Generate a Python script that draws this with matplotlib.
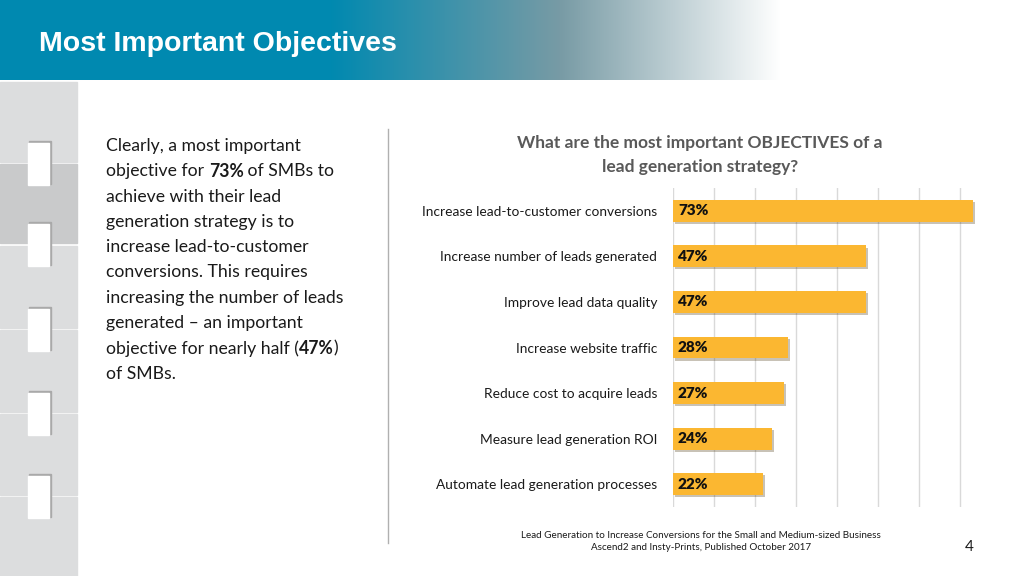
import numpy as np
import matplotlib.pyplot as plt
import matplotlib.patches as mpatches
import matplotlib.patheffects as pe
from matplotlib import font_manager

categories = ["Increase lead-to-customer conversions",
              "Increase number of leads generated",
              "Improve lead data quality",
              "Increase website traffic",
              "Reduce cost to acquire leads",
              "Measure lead generation ROI",
              "Automate lead generation processes"]
values = [0.73, 0.47, 0.47, 0.28, 0.27, 0.24, 0.22]

title = "Most Important Objectives"
chart_title = "What are the most important OBJECTIVES of a\nlead generation strategy?"
source = ["Lead Generation to Increase Conversions for the Small and Medium-sized Business",
          "Ascend2 and Insty-Prints, Published October 2017"]
page = "4"

# body text, pieces marked bold
body = [[("Clearly, a most important", False)],
        [("objective for ", False), ("73%", True), (" of SMBs to", False)],
        [("achieve with their lead", False)],
        [("generation strategy is to", False)],
        [("increase lead-to-customer", False)],
        [("conversions. This requires", False)],
        [("increasing the number of leads", False)],
        [("generated \u2013 an important", False)],
        [("objective for nearly half (", False), ("47%", True), (")", False)],
        [("of SMBs.", False)]]

FONT = ["Lato", "DejaVu Sans"]
installed = {f.name for f in font_manager.fontManager.ttflist}
narrow = "Liberation Sans Narrow" if "Liberation Sans Narrow" in installed else "Liberation Sans"
title_size = 25 if narrow == "Liberation Sans Narrow" else 20.5

W, H = 1024, 576
fig = plt.figure(figsize=(W / 100, H / 100), dpi=100)
fig.patch.set_facecolor("white")

def fx(x):
    return x / W

def fy(y):
    return 1 - y / H

# header band with gradient to white
bg = fig.add_axes([0, fy(80), 1, 80 / H])
bg.axis("off")
grad = np.ones((1, W, 3))
teal = np.array([0, 137, 176]) / 255
mid = np.array([120, 155, 165]) / 255
for i in range(W):
    if i < 330:
        c = teal
    elif i < 560:
        t = (i - 330) / 230
        c = teal * (1 - t) + mid * t
    elif i < 780:
        t = (i - 560) / 220
        c = mid * (1 - t) + np.ones(3) * t
    else:
        c = np.ones(3)
    grad[0, i] = c
bg.imshow(grad, aspect="auto", extent=[0, 1, 0, 1])
bg.set_xlim(0, 1)
bg.set_ylim(0, 1)
fig.text(fx(39), fy(44), title, color="white", fontsize=title_size, fontweight="bold",
         family=[narrow, "DejaVu Sans"], va="center", ha="left")

# left tile column
tiles = [(82, 162), (164, 243), (246, 328), (330, 412), (414, 495), (497, 576)]
for k, (t0, t1) in enumerate(tiles):
    col = "#c9cacb" if k == 1 else "#dcddde"
    fig.patches.append(mpatches.Rectangle((0, fy(t1)), fx(77), (t1 - t0) / H,
                                          transform=fig.transFigure, color=col, zorder=1))
for t0, t1 in tiles[:-1]:
    b = t1 + 1
    fig.patches.append(mpatches.Rectangle((fx(29), fy(b + 21)), fx(22), 43 / H,
                                          transform=fig.transFigure, color="#a9a9a9", zorder=2))
    fig.patches.append(mpatches.Rectangle((fx(28), fy(b + 22)), fx(21), 42 / H,
                                          transform=fig.transFigure, color="white", zorder=3))

# body text with bold parts
renderer = fig.canvas.get_renderer()
y0 = 146
for i, line in enumerate(body):
    x = fx(106)
    for txt, bold in line:
        t = fig.text(x, fy(y0 + i * 25.3), txt, fontsize=12.7, family=FONT,
                     fontweight="bold" if bold else "normal", color="#1a1a1a",
                     va="center", ha="left")
        bb = t.get_window_extent(renderer)
        x += bb.width / W

# divider
fig.add_artist(plt.Line2D([fx(388), fx(388)], [fy(129), fy(543)],
                          color="#b0b0b0", lw=1))

# chart
ax = fig.add_axes([fx(673), fy(507), fx(981) - fx(673), (507 - 188) / H])
y = np.arange(len(categories))
bars = ax.barh(y, values, height=0.48, color="#fbb731", zorder=3)
for b in bars:
    b.set_path_effects([pe.SimplePatchShadow(offset=(1.5, -1.5), alpha=0.3), pe.Normal()])
for yi, v in zip(y, values):
    ax.text(0.012, yi, f"{v:.0%}", fontsize=11, fontweight="heavy", family=FONT,
            color="#111111", va="center", ha="left", zorder=4)
ax.set_xlim(0, 0.75)
ax.set_ylim(len(categories) - 0.5, -0.5)
ax.set_xticks(np.arange(0, 0.71, 0.1))
ax.grid(axis="x", color="#d9d9d9", lw=1, zorder=0)
ax.tick_params(left=False, bottom=False, labelbottom=False)
ax.set_yticks(y)
ax.set_yticklabels(categories, fontsize=9.9, family=FONT, color="#1a1a1a")
ax.tick_params(axis="y", pad=8)
for s in ax.spines.values():
    s.set_visible(False)

fig.text(fx(700), fy(155), chart_title, fontsize=12.5, fontweight="bold", family=FONT,
         color="#595959", ha="center", va="center", linespacing=1.55)
fig.text(fx(701), fy(535), source[0], fontsize=7.1, family=FONT, color="#1a1a1a",
         ha="center", va="center")
fig.text(fx(701), fy(548), source[1], fontsize=7.1, family=FONT, color="#1a1a1a",
         ha="center", va="center")
fig.text(fx(969), fy(547), page, fontsize=11, family=FONT, color="#1a1a1a",
         ha="center", va="center")

fig.savefig("out.png", dpi=100)
